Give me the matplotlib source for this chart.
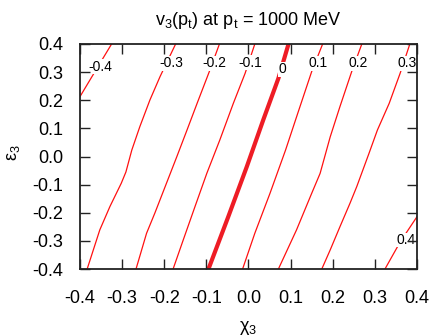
import matplotlib.pyplot as plt

plt.rcParams['font.family'] = ['Liberation Sans', 'DejaVu Sans']
plt.rcParams['mathtext.default'] = 'regular'

# contour lines of v3: (chi3, eps3) points per level
chi_m04 = [-0.325, -0.362, -0.400]
eps_m04 = [0.400, 0.308, 0.213]
chi_m03 = [-0.173, -0.210, -0.234, -0.258, -0.277, -0.291, -0.302, -0.329, -0.353, -0.383]
eps_m03 = [0.400, 0.284, 0.201, 0.106, 0.023, -0.055, -0.095, -0.178, -0.261, -0.400]
chi_m02 = [-0.069, -0.093, -0.122, -0.146, -0.170, -0.196, -0.222, -0.242, -0.267]
eps_m02 = [0.400, 0.302, 0.189, 0.094, 0.000, -0.100, -0.200, -0.273, -0.400]
chi_m01 = [0.015, -0.008, -0.036, -0.068, -0.099, -0.127, -0.155, -0.179]
eps_m01 = [0.400, 0.296, 0.189, 0.059, -0.060, -0.178, -0.297, -0.400]
chi_0 = [0.095, 0.071, 0.035, -0.004, -0.048, -0.095]
eps_0 = [0.400, 0.278, 0.130, -0.036, -0.214, -0.400]
chi_01 = [0.176, 0.150, 0.117, 0.088, 0.051, 0.015, -0.014]
eps_01 = [0.400, 0.302, 0.154, 0.023, -0.131, -0.273, -0.400]
chi_02 = [0.269, 0.245, 0.217, 0.194, 0.170, 0.150, 0.114, 0.071]
eps_02 = [0.400, 0.302, 0.177, 0.070, -0.060, -0.131, -0.261, -0.400]
chi_03 = [0.383, 0.360, 0.334, 0.306, 0.286, 0.257, 0.241, 0.217, 0.194, 0.174]
eps_03 = [0.400, 0.296, 0.189, 0.094, 0.011, -0.107, -0.166, -0.250, -0.332, -0.400]
chi_04 = [0.400, 0.360, 0.324]
eps_04 = [-0.214, -0.304, -0.400]

# contour labels and where they sit
label_text = ['-0.4', '-0.3', '-0.2', '-0.1', '0', '0.1', '0.2', '0.3', '0.4']
label_chi = [-0.352, -0.184, -0.080, 0.004, 0.081, 0.166, 0.261, 0.376, 0.373]
label_eps = [0.319, 0.331, 0.331, 0.333, 0.310, 0.331, 0.331, 0.331, -0.297]

ticks = [-0.4, -0.3, -0.2, -0.1, 0.0, 0.1, 0.2, 0.3, 0.4]

lines = [(chi_m04, eps_m04), (chi_m03, eps_m03), (chi_m02, eps_m02),
         (chi_m01, eps_m01), (chi_0, eps_0), (chi_01, eps_01),
         (chi_02, eps_02), (chi_03, eps_03), (chi_04, eps_04)]

fig = plt.figure(figsize=(4.31, 3.36), dpi=100)
ax = fig.add_axes([80 / 431, 67 / 336, 337 / 431, 225 / 336])
ax.set_axisbelow(False)

for i, (cx, ey) in enumerate(lines):
    if i == 4:
        # zero level drawn thick
        ax.plot(cx, ey, color='#ee1c25', lw=3.0, zorder=2)
    else:
        ax.plot(cx, ey, color='#ff1010', lw=0.9, zorder=2)

for t, cx, ey in zip(label_text, label_chi, label_eps):
    ax.text(cx, ey, t, fontsize=10, ha='center', va='center', zorder=2.2,
            bbox=dict(facecolor='white', edgecolor='none', pad=0.3))

ax.set_xlim(-0.4, 0.4)
ax.set_ylim(-0.4, 0.4)
ax.set_xticks(ticks)
ax.set_yticks(ticks)
ax.set_xticklabels([f'{v:.1f}' for v in ticks])
ax.set_yticklabels([f'{v:.1f}' for v in ticks])
ax.tick_params(direction='in', length=7, width=1, labelsize=13,
               top=True, right=True, color='#222222')
ax.tick_params(axis='x', pad=15)
ax.tick_params(axis='y', pad=12)
for s in ax.spines.values():
    s.set_linewidth(1.3)
    s.set_color('#222222')

ax.set_xlabel(r'χ$_3$', fontsize=13)
ax.set_ylabel(r'ε$_3$', fontsize=13)
ax.xaxis.set_label_coords(0.5, -0.222)
ax.yaxis.set_label_coords(-0.172, 0.516)
ax.set_title(r'v$_3$(p$_t$) at p$_t$ = 1000 MeV', fontsize=13, pad=13.7)

fig.savefig('out.png', dpi=100)
